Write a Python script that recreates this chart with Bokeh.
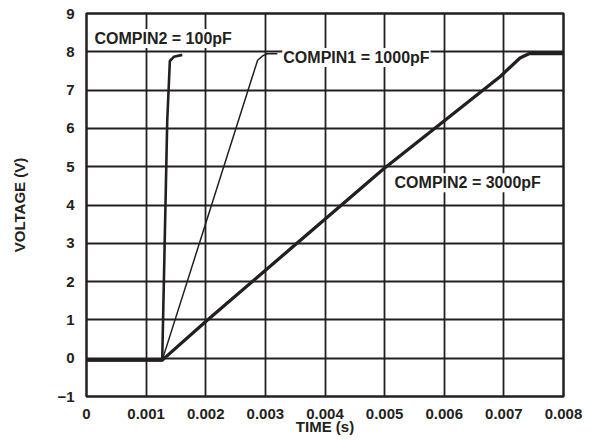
from bokeh.plotting import figure
from bokeh.models import Range1d, FixedTicker, Label
from bokeh.embed import file_html
from bokeh.resources import INLINE

# data
t_100 = [0.0, 0.00127, 0.001326, 0.001354, 0.001398, 0.001465, 0.001606]
v_100 = [-0.05, -0.05, 4.11, 6.20, 7.76, 7.87, 7.92]

t_1000 = [0.0, 0.00127, 0.00287, 0.00296, 0.00303, 0.0032]
v_1000 = [-0.05, -0.05, 7.78, 7.90, 7.95, 7.95]

t_3000 = [0.0, 0.00127, 0.00201, 0.00498, 0.00695, 0.00727, 0.00742, 0.008]
v_3000 = [-0.05, -0.05, 0.97, 4.94, 7.37, 7.84, 7.95, 7.95]

x_ticks = [0, 0.001, 0.002, 0.003, 0.004, 0.005, 0.006, 0.007, 0.008]
x_tick_labels = ["0", "0.001", "0.002", "0.003", "0.004", "0.005", "0.006", "0.007", "0.008"]
y_ticks = [-1, 0, 1, 2, 3, 4, 5, 6, 7, 8, 9]
y_tick_labels = ["\u22121", "0", "1", "2", "3", "4", "5", "6", "7", "8", "9"]

labels = ["COMPIN2 = 100pF", "COMPIN1 = 1000pF", "COMPIN2 = 3000pF"]
label_x = [0.000117, 0.003284, 0.00515]
label_y = [8.35, 7.85, 4.58]

FONT = "Liberation Sans"
INK = "#231f20"

p = figure(width=592, height=432, output_backend="svg", toolbar_location=None,
           x_range=Range1d(0, 0.008), y_range=Range1d(-1, 9),
           min_border_left=86, min_border_right=29, min_border_top=13, min_border_bottom=36)
p.frame_width = 477
p.frame_height = 383

p.outline_line_color = INK
p.outline_line_width = 2.5

for ax in (p.xaxis[0], p.yaxis[0]):
    ax.axis_line_color = None
    ax.major_tick_line_color = None
    ax.minor_tick_line_color = None
    ax.major_label_text_font = FONT
    ax.major_label_text_font_style = "bold"
    ax.major_label_text_font_size = "15px"
    ax.major_label_text_color = INK
    ax.axis_label_text_font = FONT
    ax.axis_label_text_font_style = "bold"
    ax.axis_label_text_font_size = "15px"
    ax.axis_label_text_color = INK

p.xaxis.ticker = FixedTicker(ticks=x_ticks)
p.xaxis.major_label_overrides = {t: l for t, l in zip(x_ticks, x_tick_labels)}
p.yaxis.ticker = FixedTicker(ticks=y_ticks)
p.yaxis.major_label_overrides = {t: l for t, l in zip(y_ticks, y_tick_labels)}
p.xaxis.axis_label = "TIME (s)"
p.yaxis.axis_label = "VOLTAGE (V)"
p.xaxis.major_label_standoff = 6
p.xaxis.axis_label_standoff = -4
p.yaxis.major_label_standoff = 6
p.yaxis.axis_label_standoff = 26

p.xgrid.ticker = FixedTicker(ticks=x_ticks)
p.ygrid.ticker = FixedTicker(ticks=y_ticks)
for g in (p.xgrid[0], p.ygrid[0]):
    g.grid_line_color = INK
    g.grid_line_width = 1.8

p.line(t_3000, v_3000, line_color=INK, line_width=3.3)
p.line(t_1000, v_1000, line_color=INK, line_width=1.5)
p.line(t_100, v_100, line_color=INK, line_width=2.6)

for txt, lx, ly in zip(labels, label_x, label_y):
    p.add_layout(Label(x=lx, y=ly, text=txt, text_font=FONT, text_font_style="bold",
                       text_font_size="16px", text_color=INK, text_baseline="alphabetic",
                       background_fill_color="white", padding=1))

open("out.html", "w").write(file_html(p, INLINE))
